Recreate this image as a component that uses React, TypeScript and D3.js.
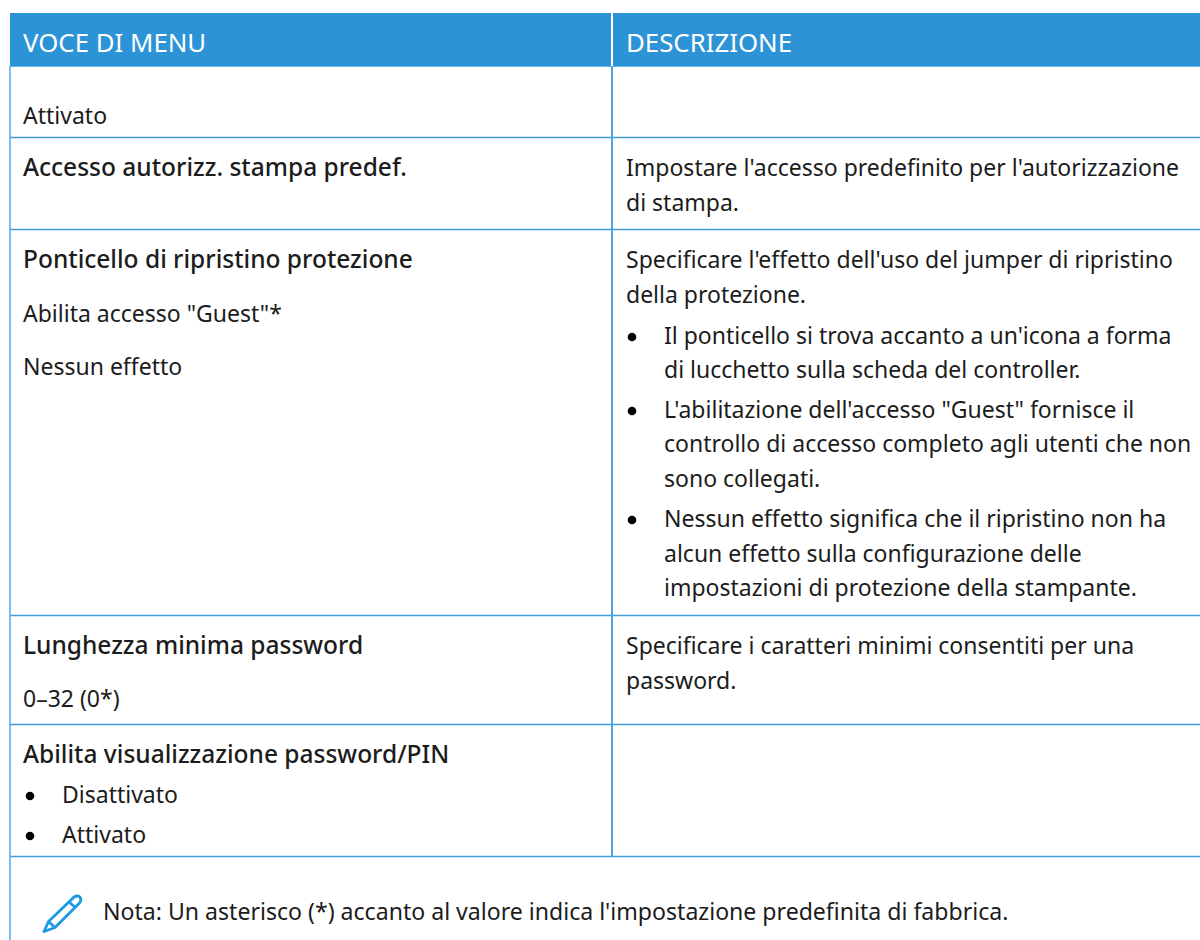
import React, { useEffect, useRef } from "react";
import * as d3 from "d3";

// table content
const headers = ["VOCE DI MENU", "DESCRIZIONE"];
const leftCells = [
  [{ t: "Attivato" }],
  [{ t: "Accesso autorizz. stampa predef.", b: true }],
  [{ t: "Ponticello di ripristino protezione", b: true }, { t: 'Abilita accesso "Guest"*' }, { t: "Nessun effetto" }],
  [{ t: "Lunghezza minima password", b: true }, { t: "0–32 (0*)" }],
  [{ t: "Abilita visualizzazione password/PIN", b: true }, { t: "Disattivato", li: true }, { t: "Attivato", li: true }],
];
const rightCells = [
  [],
  [{ t: "Impostare l'accesso predefinito per l'autorizzazione" }, { t: "di stampa." }],
  [
    { t: "Specificare l'effetto dell'uso del jumper di ripristino" },
    { t: "della protezione." },
    { t: "Il ponticello si trova accanto a un'icona a forma", li: true },
    { t: "di lucchetto sulla scheda del controller.", cont: true },
    { t: "L'abilitazione dell'accesso \"Guest\" fornisce il", li: true },
    { t: "controllo di accesso completo agli utenti che non", cont: true },
    { t: "sono collegati.", cont: true },
    { t: "Nessun effetto significa che il ripristino non ha", li: true },
    { t: "alcun effetto sulla configurazione delle", cont: true },
    { t: "impostazioni di protezione della stampante.", cont: true },
  ],
  [{ t: "Specificare i caratteri minimi consentiti per una" }, { t: "password." }],
  [],
];
const note = "Nota: Un asterisco (*) accanto al valore indica l'impostazione predefinita di fabbrica.";

// row boundaries and text baselines in page pixels
const rowEdges = [137, 229, 615, 724, 856];
const leftBaselines = [
  [124],
  [176],
  [268, 322, 375],
  [654, 707],
  [763, 803, 843],
];
const rightBaselines = [
  [],
  [176, 211],
  [268, 303, 344, 378, 418, 452, 487, 527, 562, 596],
  [654, 689],
  [],
];

const BLUE = "#2b93d6";
const LINE = "#3f9bd9";
const EDGE = "#5fb2ea";
const INK = "#1c1c1c";
const FONT = "'Noto Sans', sans-serif";
const SIZE = 23;

export default function App() {
  const ref = useRef<SVGSVGElement | null>(null);

  useEffect(() => {
    const svg = d3.select(ref.current);
    svg.selectAll("*").remove();

    const colText = [23, 626];
    const bulletX = [30, 632];
    const indentX = [62, 664];

    // header band
    svg.append("rect").attr("x", 10).attr("y", 13).attr("width", 1190).attr("height", 53).attr("fill", BLUE);
    svg.append("rect").attr("x", 611).attr("y", 13).attr("width", 2).attr("height", 53).attr("fill", "#fff");
    svg.append("line").attr("x1", 10).attr("x2", 1200).attr("y1", 66.5).attr("y2", 66.5).attr("stroke", "#6ab6e8").attr("stroke-width", 1);

    headers.forEach((h, i) => {
      svg.append("text").attr("x", colText[i]).attr("y", 52)
        .attr("fill", "#fff").attr("font-family", FONT).attr("font-size", 25.8).text(h);
    });

    // grid
    svg.selectAll(".rowline").data(rowEdges).join("line").attr("class", "rowline")
      .attr("x1", 10).attr("x2", 1200).attr("y1", d => d + 0.5).attr("y2", d => d + 0.5)
      .attr("stroke", LINE).attr("stroke-width", 1.6);
    svg.append("line").attr("x1", 10).attr("x2", 10).attr("y1", 66).attr("y2", 940).attr("stroke", EDGE).attr("stroke-width", 1.6);
    svg.append("line").attr("x1", 612).attr("x2", 612).attr("y1", 66).attr("y2", 856).attr("stroke", LINE).attr("stroke-width", 1.8);

    const drawCell = (cells: any[][], baselines: number[][], col: number) => {
      cells.forEach((lines, r) => {
        lines.forEach((line, j) => {
          const y = baselines[r][j];
          const tx = line.li || line.cont ? indentX[col] : colText[col];
          svg.append("text").attr("x", tx).attr("y", y)
            .attr("font-family", FONT).attr("font-size", line.b ? 24.5 : SIZE)
            .attr("font-weight", line.b ? 500 : 400)
            .attr("fill", INK).text(line.t);
          if (line.li) {
            svg.append("circle").attr("cx", bulletX[col]).attr("cy", y - 7).attr("r", 4.3).attr("fill", "#000");
          }
        });
      });
    };
    drawCell(leftCells, leftBaselines, 0);
    drawCell(rightCells, rightBaselines, 1);

    svg.append("text").attr("x", 103).attr("y", 919.5).attr("font-family", FONT).attr("font-size", 23.08).attr("fill", INK).text(note);

    // pencil icon
    const p = d3.path();
    p.moveTo(44, 931.5);
    p.lineTo(48.5, 921.5);
    p.lineTo(71.5, 899.5);
    p.quadraticCurveTo(76, 894, 80, 897);
    p.quadraticCurveTo(82, 901, 79, 903.5);
    p.lineTo(55, 927.5);
    p.closePath();
    p.moveTo(48.5, 921.5);
    p.lineTo(55, 927.5);
    p.moveTo(69, 902);
    p.lineTo(76, 908);
    svg.append("path").attr("d", p.toString()).attr("fill", "none").attr("stroke", "#1b9ae4").attr("stroke-width", 2.8).attr("stroke-linejoin", "round");
  }, []);

  return <svg ref={ref} width={1200} height={940} style={{ position: "absolute", left: 0, top: 0 }} />;
}
